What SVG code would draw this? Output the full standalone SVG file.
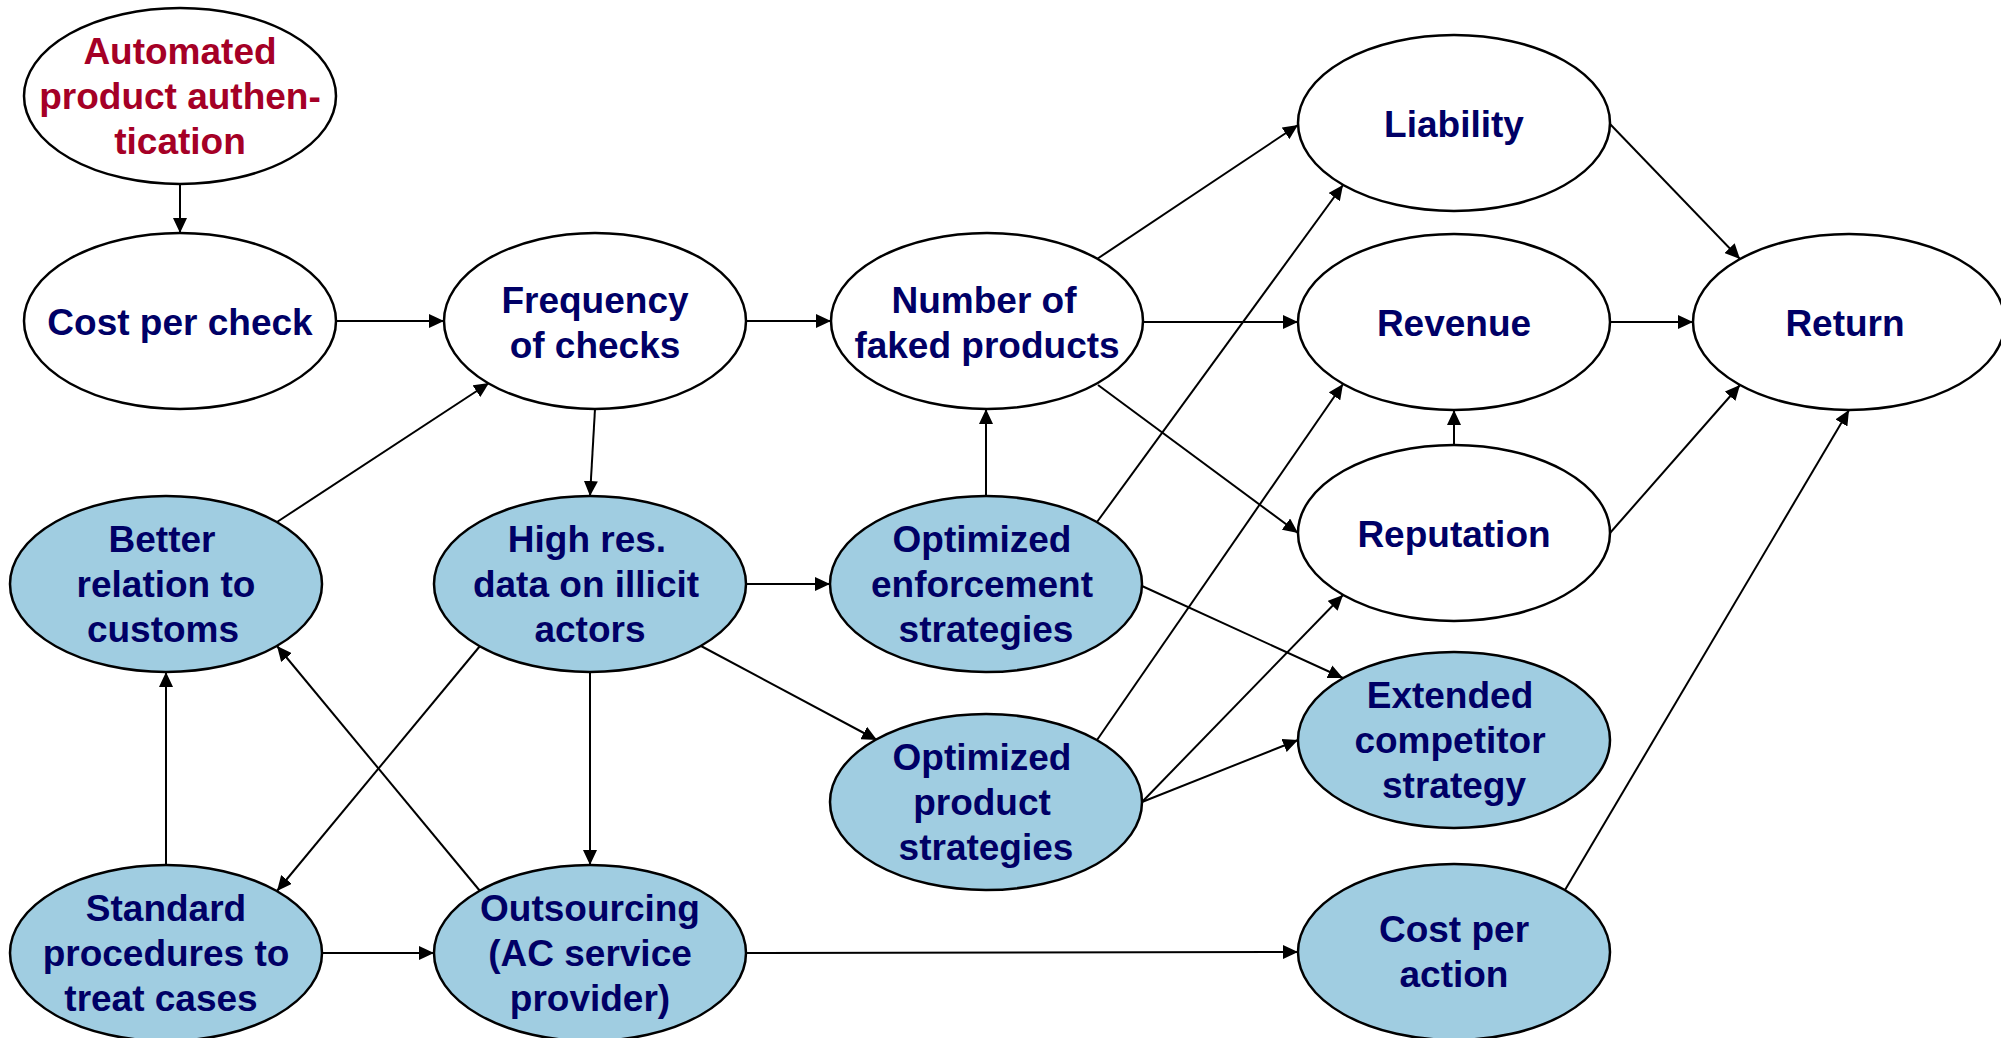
<svg xmlns="http://www.w3.org/2000/svg" width="2001" height="1038" viewBox="0 0 2001 1038">
  <style>
    .node ellipse { stroke: #000; stroke-width: 2.5; }
    .plain ellipse { fill: #ffffff; }
    .action ellipse { fill: #a0cde1; }
    .node text { font-family: "Liberation Sans", Arial, sans-serif; font-weight: bold; font-size: 37px; fill: #000066; text-anchor: middle; }
    .node.source text { fill: #a50026; }
    .edges line { stroke: #000; stroke-width: 2; marker-end: url(#arrow); }
  </style>
  <defs>
    <marker id="arrow" markerUnits="userSpaceOnUse" markerWidth="16" markerHeight="14" refX="15" refY="7" orient="auto">
      <path d="M0,0 L15,7 L0,14 Z" fill="#000"/>
    </marker>
  </defs>
  <rect width="2001" height="1038" fill="#ffffff"/>

  <!-- connectors -->
  <g class="edges">
    <line x1="180" y1="184" x2="180" y2="233"/>
    <line x1="336" y1="321" x2="444" y2="321"/>
    <line x1="746" y1="321" x2="831" y2="321"/>
    <line x1="1097" y1="259" x2="1298" y2="125"/>
    <line x1="1143" y1="322" x2="1298" y2="322"/>
    <line x1="1098" y1="385" x2="1298" y2="533"/>
    <line x1="1610" y1="124" x2="1740" y2="259"/>
    <line x1="1610" y1="322" x2="1693" y2="322"/>
    <line x1="1610" y1="533" x2="1740" y2="385"/>
    <line x1="1454" y1="445" x2="1454" y2="410"/>
    <line x1="1565" y1="890" x2="1849" y2="410"/>
    <line x1="595" y1="409" x2="590" y2="496"/>
    <line x1="277" y1="522" x2="489" y2="383"/>
    <line x1="746" y1="584" x2="830" y2="584"/>
    <line x1="701" y1="646" x2="877" y2="740"/>
    <line x1="480" y1="646" x2="277" y2="891"/>
    <line x1="590" y1="672" x2="590" y2="865"/>
    <line x1="480" y1="891" x2="277" y2="646"/>
    <line x1="166" y1="865" x2="166" y2="672"/>
    <line x1="322" y1="953" x2="434" y2="953"/>
    <line x1="746" y1="953" x2="1298" y2="952"/>
    <line x1="986" y1="496" x2="986" y2="409"/>
    <line x1="1097" y1="522" x2="1343" y2="185"/>
    <line x1="1142" y1="586" x2="1343" y2="678"/>
    <line x1="1097" y1="740" x2="1343" y2="384"/>
    <line x1="1142" y1="802" x2="1343" y2="595"/>
    <line x1="1142" y1="802" x2="1298" y2="740"/>
  </g>

  <!-- nodes -->
  <g id="automated-authentication" class="node plain source">
    <ellipse cx="180" cy="96" rx="156" ry="88"/>
    <text x="180" y="64">Automated</text>
    <text x="180" y="109">product authen-</text>
    <text x="180" y="154">tication</text>
  </g>
  <g id="cost-per-check" class="node plain">
    <ellipse cx="180" cy="321" rx="156" ry="88"/>
    <text x="180" y="335">Cost per check</text>
  </g>
  <g id="frequency-of-checks" class="node plain">
    <ellipse cx="595" cy="321" rx="151" ry="88"/>
    <text x="595" y="313">Frequency</text>
    <text x="595" y="358">of checks</text>
  </g>
  <g id="number-of-faked-products" class="node plain">
    <ellipse cx="987" cy="321" rx="156" ry="88"/>
    <text x="984" y="313">Number of</text>
    <text x="987" y="358">faked products</text>
  </g>
  <g id="liability" class="node plain">
    <ellipse cx="1454" cy="123" rx="156" ry="88"/>
    <text x="1454" y="137">Liability</text>
  </g>
  <g id="revenue" class="node plain">
    <ellipse cx="1454" cy="322" rx="156" ry="88"/>
    <text x="1454" y="336">Revenue</text>
  </g>
  <g id="return" class="node plain">
    <ellipse cx="1849" cy="322" rx="156" ry="88"/>
    <text x="1845" y="336">Return</text>
  </g>
  <g id="reputation" class="node plain">
    <ellipse cx="1454" cy="533" rx="156" ry="88"/>
    <text x="1454" y="547">Reputation</text>
  </g>
  <g id="better-relation-to-customs" class="node action">
    <ellipse cx="166" cy="584" rx="156" ry="88"/>
    <text x="162" y="552">Better</text>
    <text x="166" y="597">relation to</text>
    <text x="163" y="642">customs</text>
  </g>
  <g id="high-res-data" class="node action">
    <ellipse cx="590" cy="584" rx="156" ry="88"/>
    <text x="587" y="552">High res.</text>
    <text x="586" y="597">data on illicit</text>
    <text x="590" y="642">actors</text>
  </g>
  <g id="optimized-enforcement" class="node action">
    <ellipse cx="986" cy="584" rx="156" ry="88"/>
    <text x="982" y="552">Optimized</text>
    <text x="982" y="597">enforcement</text>
    <text x="986" y="642">strategies</text>
  </g>
  <g id="optimized-product" class="node action">
    <ellipse cx="986" cy="802" rx="156" ry="88"/>
    <text x="982" y="770">Optimized</text>
    <text x="982" y="815">product</text>
    <text x="986" y="860">strategies</text>
  </g>
  <g id="extended-competitor-strategy" class="node action">
    <ellipse cx="1454" cy="740" rx="156" ry="88"/>
    <text x="1450" y="708">Extended</text>
    <text x="1450" y="753">competitor</text>
    <text x="1454" y="798">strategy</text>
  </g>
  <g id="standard-procedures" class="node action">
    <ellipse cx="166" cy="953" rx="156" ry="88"/>
    <text x="166" y="921">Standard</text>
    <text x="166" y="966">procedures to</text>
    <text x="161" y="1011">treat cases</text>
  </g>
  <g id="outsourcing" class="node action">
    <ellipse cx="590" cy="953" rx="156" ry="88"/>
    <text x="590" y="921">Outsourcing</text>
    <text x="590" y="966">(AC service</text>
    <text x="590" y="1011">provider)</text>
  </g>
  <g id="cost-per-action" class="node action">
    <ellipse cx="1454" cy="952" rx="156" ry="88"/>
    <text x="1454" y="942">Cost per</text>
    <text x="1454" y="987">action</text>
  </g>
</svg>
